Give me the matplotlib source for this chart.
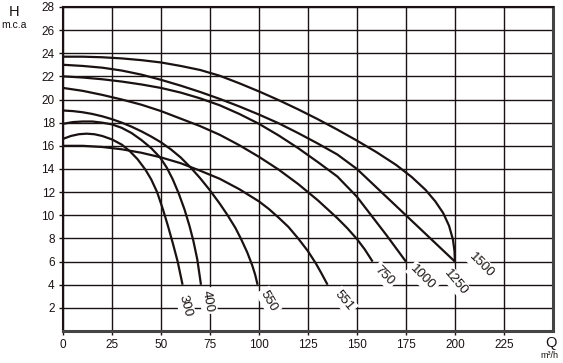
import matplotlib
matplotlib.use("Agg")
import matplotlib.pyplot as plt

plt.rcParams['font.family'] = ['Liberation Sans', 'DejaVu Sans']

# pump curves: flow Q (m3/h) and head H (m.c.a)
q_300 = [0, 4, 8, 12, 16, 20, 25, 30, 34, 38, 42, 45, 48, 51, 53.5, 56, 58.5, 61]
h_300 = [16.6, 16.85, 17.0, 17.05, 17.0, 16.85, 16.55, 16.1, 15.55, 14.85, 13.95, 13.1, 12.0,
         10.5, 9.1, 7.6, 6, 4]

q_400 = [0, 5, 10, 15, 20, 25, 30, 35, 40, 45, 49.5, 53, 56, 59, 62, 64.5, 66.5, 68.5, 70.4]
h_400 = [17.9, 18.05, 18.1, 18.1, 18.0, 17.85, 17.55, 17.1, 16.5, 15.8, 15.0, 14.1, 13.1, 11.9,
         10.5, 9.1, 7.8, 6.2, 4]

q_550 = [0, 5, 10, 15, 20, 25, 30, 35, 40, 45, 50, 55, 60, 65, 70, 75, 80, 84, 88, 91, 94, 96.5, 98, 99.3]
h_550 = [19.05, 19.0, 18.9, 18.75, 18.55, 18.3, 18.0, 17.65, 17.25, 16.8, 16.3, 15.7, 15.0, 14.15,
         13.2, 12.15, 11.0, 10.0, 8.9, 7.9, 6.8, 5.7, 4.9, 4]

q_551 = [0, 10, 20, 30, 40, 50, 60, 70, 80, 90, 100, 105, 110, 115, 120, 125, 129, 132, 135]
h_551 = [16, 16.0, 15.9, 15.7, 15.4, 15.0, 14.5, 13.85, 13.15, 12.25, 11.2, 10.55, 9.8, 9.0, 8.0,
         6.9, 5.85, 4.95, 4]

q_750 = [0, 10, 20, 30, 40, 50, 60, 70, 80, 90, 100, 110, 120, 130, 140, 145, 150, 154, 158]
h_750 = [21, 20.75, 20.4, 20.0, 19.55, 19.0, 18.35, 17.7, 16.95, 16.05, 15.05, 13.95, 12.7, 11.3,
         9.75, 8.9, 7.95, 7.05, 6]

q_1000 = [0, 10, 20, 30, 40, 50, 60, 70, 80, 90, 100, 110, 120, 130, 140, 150, 155, 160, 165, 170, 175]
h_1000 = [22, 21.9, 21.75, 21.55, 21.3, 21.0, 20.6, 20.1, 19.5, 18.75, 17.9, 16.9, 15.8, 14.6,
          13.35, 11.6, 10.5, 9.4, 8.3, 7.15, 6]

q_1250 = [0, 10, 20, 30, 40, 50, 60, 70, 80, 90, 100, 110, 120, 130, 140, 150, 160, 170, 180, 190, 200]
h_1250 = [23, 22.9, 22.75, 22.5, 22.15, 21.7, 21.2, 20.65, 20.05, 19.4, 18.7, 17.95, 17.1, 16.2,
          15.25, 14.0, 12.4, 10.8, 9.2, 7.6, 6]

q_1500 = [0, 10, 20, 30, 40, 50, 60, 70, 80, 90, 100, 110, 120, 130, 140, 150, 160, 170, 178, 185,
          190, 194, 197, 199, 199.8, 200]
h_1500 = [23.7, 23.7, 23.65, 23.55, 23.4, 23.2, 22.9, 22.55, 22.05, 21.4, 20.7, 19.95, 19.15, 18.3,
          17.4, 16.45, 15.45, 14.35, 13.3, 12.2, 11.2, 10.2, 9.1, 7.9, 6.9, 6]

curves = [(q_300, h_300), (q_400, h_400), (q_550, h_550), (q_551, h_551),
          (q_750, h_750), (q_1000, h_1000), (q_1250, h_1250), (q_1500, h_1500)]

labels = ['300', '400', '550', '551', '750', '1000', '1250', '1500']
label_q = [62.5, 74, 105, 143.5, 164, 183.5, 200.5, 213.5]
label_h = [2.2, 2.6, 2.6, 2.6, 4.8, 4.6, 4.2, 5.7]
label_rot = [-75, -80, -60, -50, -45, -45, -50, -45]

x_ticks = [0, 25, 50, 75, 100, 125, 150, 175, 200, 225]
y_ticks = [2, 4, 6, 8, 10, 12, 14, 16, 18, 20, 22, 24, 26, 28]

fig = plt.figure(figsize=(5.63, 3.63), dpi=100)
ax = fig.add_axes([0.112, 0.088, 0.870, 0.893])

ink = '#1a1212'

for x in range(0, 251, 25):
    ax.axvline(x, color=ink, lw=1.0, zorder=1)
for y in range(2, 29, 2):
    ax.axhline(y, color=ink, lw=1.0, zorder=1)

for q, h in curves:
    ax.plot(q, h, color=ink, lw=1.6, zorder=3, solid_capstyle='butt', solid_joinstyle='round')

for txt, lq, lh, rot in zip(labels, label_q, label_h, label_rot):
    ax.text(lq, lh, txt, rotation=rot, ha='center', va='center', fontsize=9.5,
            color=ink, zorder=4, rotation_mode='anchor',
            bbox=dict(facecolor='white', edgecolor='none', pad=1.5))

ax.set_xlim(0, 250)
ax.set_ylim(0, 28)
ax.set_xticks(x_ticks)
ax.set_yticks(y_ticks)
ax.tick_params(axis='both', length=3, width=1, color=ink, labelsize=8.5,
               labelcolor=ink, pad=3)

for side in ['left', 'top']:
    ax.spines[side].set_linewidth(1.5)
    ax.spines[side].set_color(ink)
for side in ['right', 'bottom']:
    ax.spines[side].set_linewidth(2.2)
    ax.spines[side].set_color('#444444')

fig.text(14 / 563, 1 - 12 / 363, 'H', fontsize=10.5, ha='center', va='center', color=ink)
fig.text(14 / 563, 1 - 25 / 363, 'm.c.a', fontsize=7.5, ha='center', va='center', color=ink)
fig.text(551 / 563, 1 - 343 / 363, 'Q', fontsize=10.5, ha='center', va='center', color=ink)
fig.text(549 / 563, 1 - 356 / 363, 'm³/h', fontsize=6.5, ha='center', va='center', color=ink)

fig.savefig('out.png', dpi=100)
